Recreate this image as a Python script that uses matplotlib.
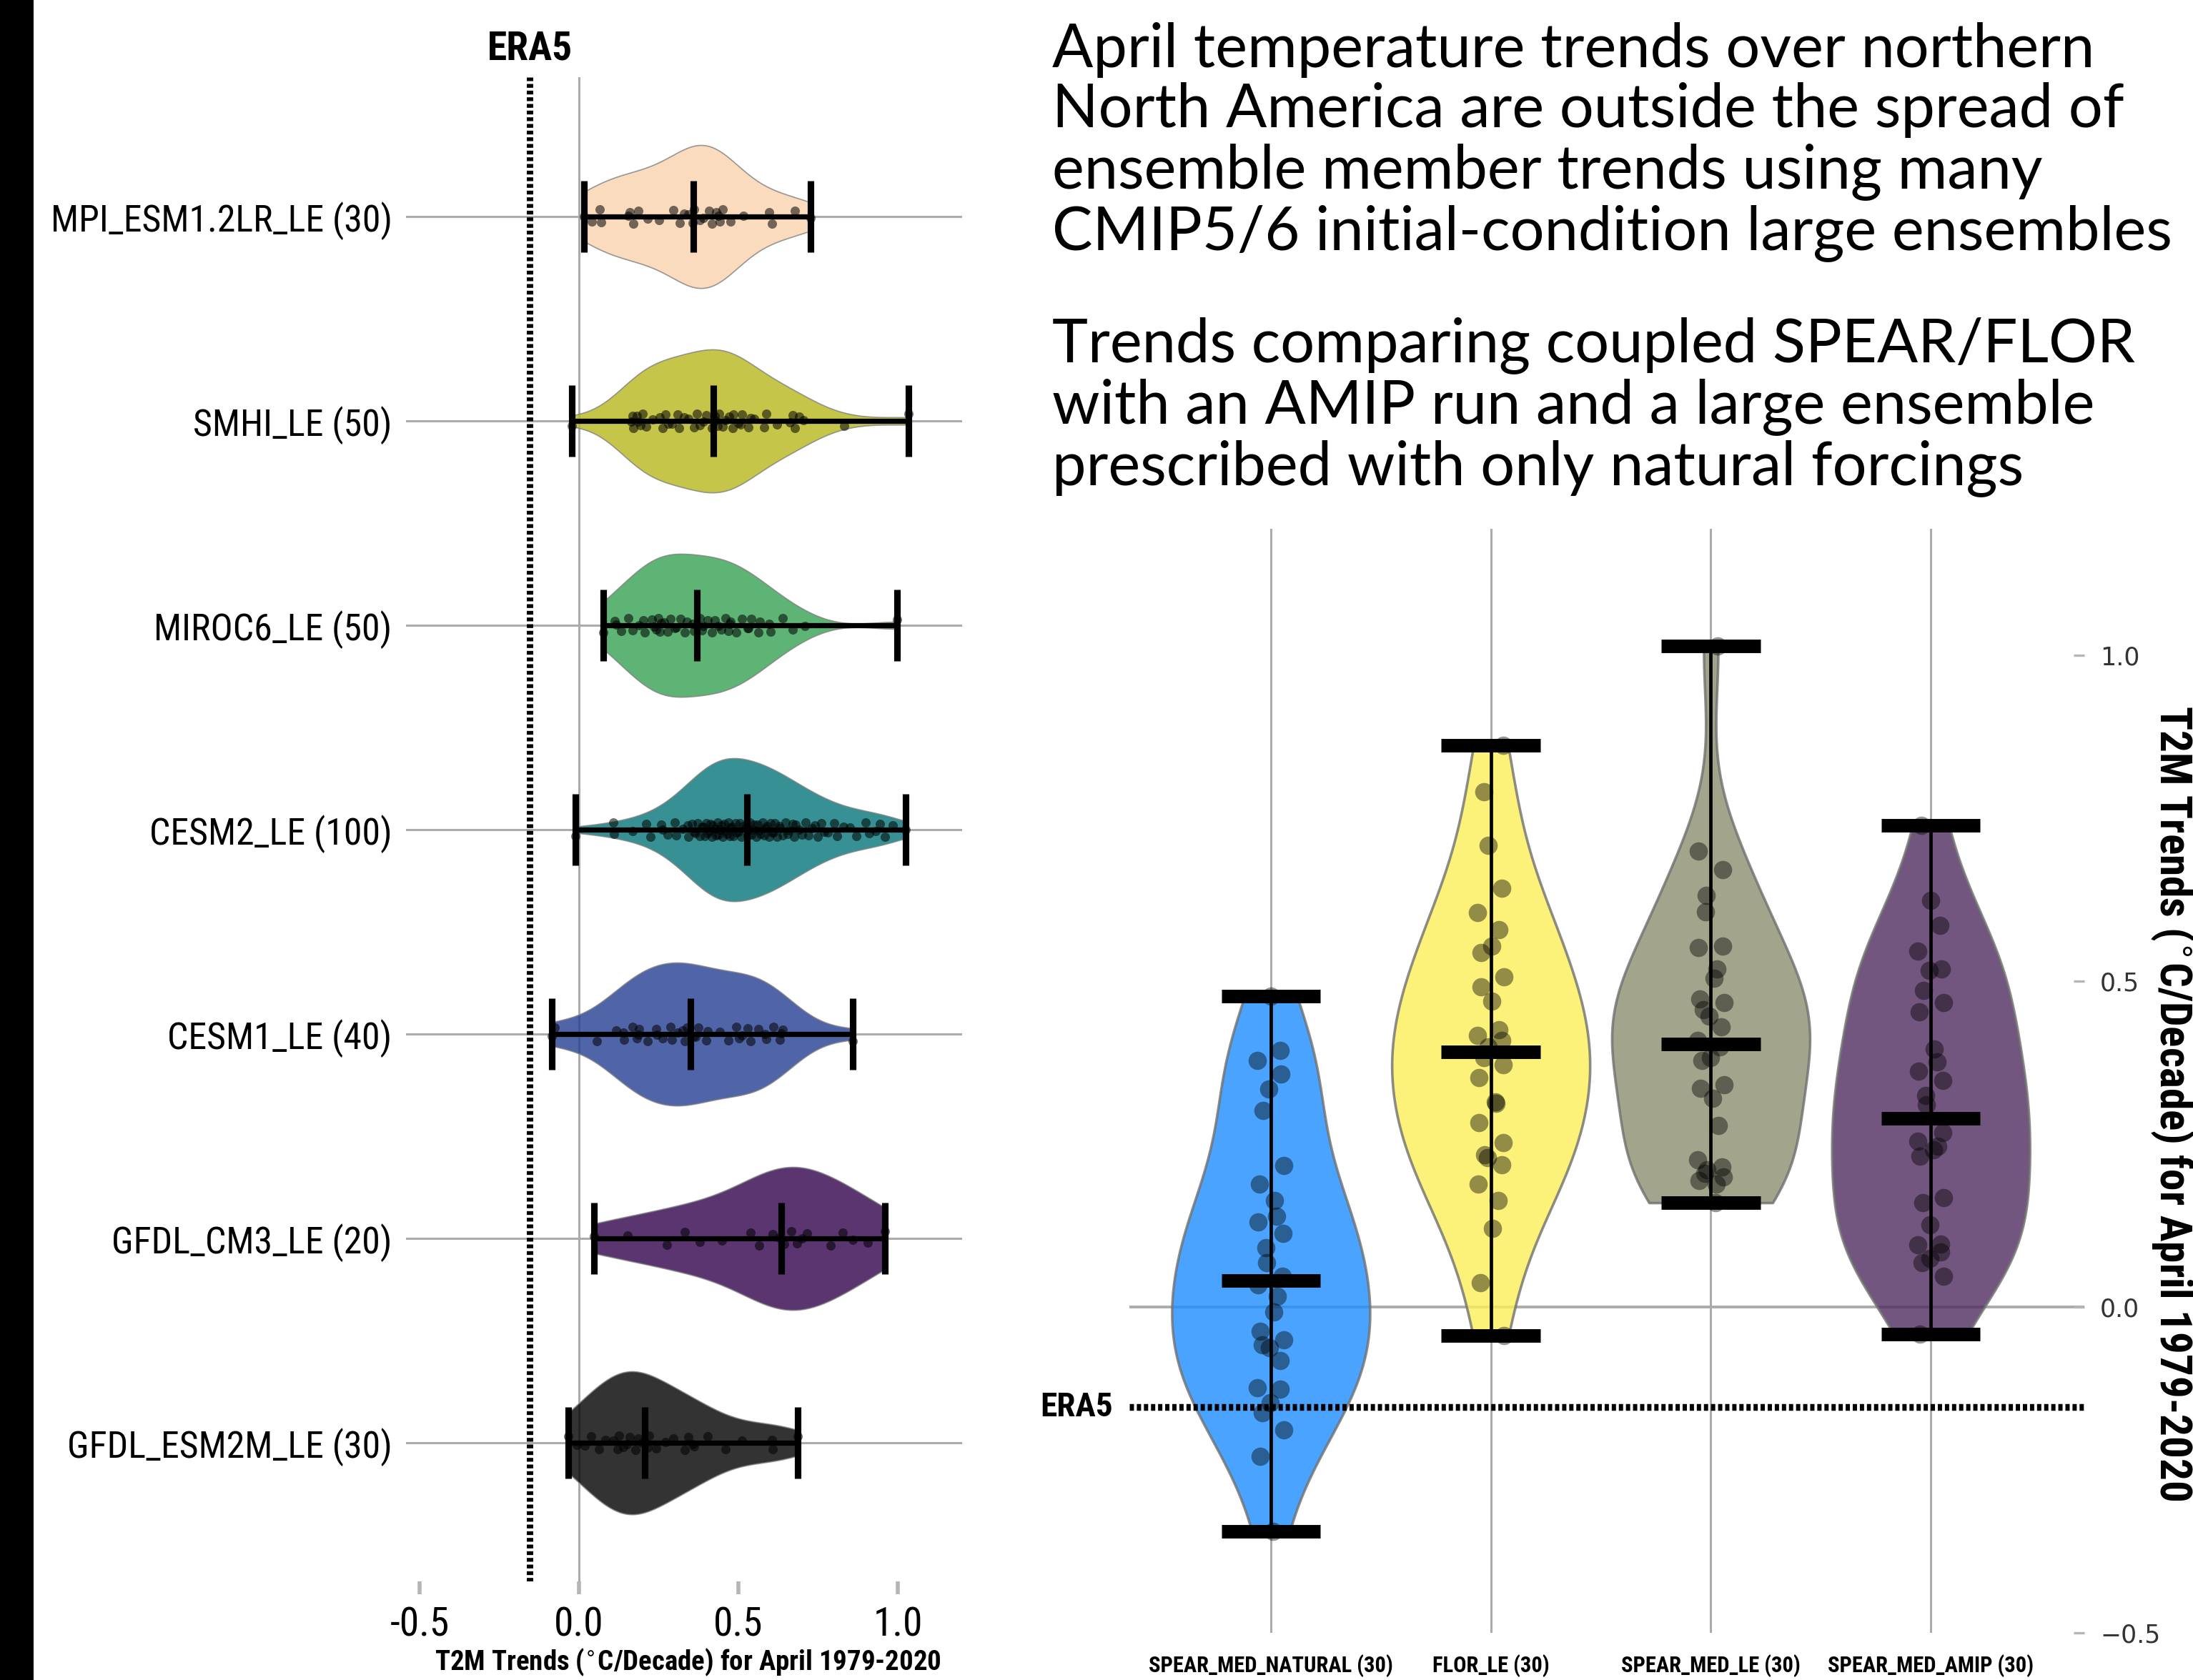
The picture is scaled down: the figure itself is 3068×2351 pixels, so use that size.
import numpy as np
import matplotlib
matplotlib.use('Agg')
import matplotlib.pyplot as plt
from matplotlib import font_manager as fm
from matplotlib.patches import Rectangle
import matplotlib.transforms as mtransforms


def has_font(name):
    try:
        fm.findfont(fm.FontProperties(family=name), fallback_to_default=False)
        return True
    except Exception:
        return False


def _weight(f):
    w = f.weight
    if isinstance(w, str):
        w = fm.weight_dict.get(w, 400)
    return int(w)


def find_condensed(bold):
    prefs = ['liberation sans narrow', 'roboto condensed', 'open sans condensed',
             'noto sans', 'lato', 'open sans', 'roboto', 'inter', 'dejavu sans']
    cands = []
    for f in fm.fontManager.ttflist:
        n = f.name.lower()
        fn = f.fname.lower()
        narrow = ('narrow' in n or 'condensed' in n or 'narrow' in fn or 'condensed' in fn
                  or str(f.stretch) in ('condensed', 'semi-condensed', 'extra-condensed',
                                         'ultra-condensed'))
        if not narrow or f.style != 'normal' or 'italic' in fn or 'oblique' in fn:
            continue
        cands.append(f)
    if not cands:
        return None

    def score(f):
        n = f.name.lower()
        p = len(prefs)
        for j, q in enumerate(prefs):
            if n.startswith(q):
                p = j
                break
        target = 700 if bold else 400
        fn = f.fname.lower()
        extra = 0 if ('extracondensed' not in fn and 'extra' not in str(f.stretch)) else 1
        return (extra, abs(_weight(f) - target), p)

    cands.sort(key=score)
    return cands[0].fname


COND_REG = find_condensed(False)
COND_BOLD = find_condensed(True)
BASE = 'Liberation Sans' if has_font('Liberation Sans') else 'DejaVu Sans'
THIN = 'Lato' if has_font('Lato') else 'DejaVu Sans'


def fp(bold=False, size=12):
    path = COND_BOLD if bold else COND_REG
    if path:
        return fm.FontProperties(fname=path, size=size)
    return fm.FontProperties(family=BASE, weight='bold' if bold else 'normal', size=size)


# ---------------- data: left panel (CMIP5/6 large ensembles) ----------------
left_labels = ['MPI_ESM1.2LR_LE (30)', 'SMHI_LE (50)', 'MIROC6_LE (50)', 'CESM2_LE (100)',
               'CESM1_LE (40)', 'GFDL_CM3_LE (20)', 'GFDL_ESM2M_LE (30)']
left_colors = ['#F9D3AE', '#B7B71C', '#35A151', '#037479', '#243D92', '#31024C', '#000000']

mpi_esm12lr = [0.015, 0.04, 0.065, 0.069, 0.155, 0.159, 0.17, 0.186, 0.215, 0.25, 0.295, 0.315,
               0.33, 0.343, 0.356, 0.362, 0.378, 0.39, 0.408, 0.416, 0.43, 0.438, 0.442, 0.451,
               0.476, 0.515, 0.597, 0.605, 0.678, 0.726]
smhi = [-0.023, 0.163, 0.168, 0.17, 0.181, 0.185, 0.193, 0.2, 0.211, 0.23, 0.253, 0.262, 0.271,
        0.28, 0.292, 0.309, 0.314, 0.33, 0.344, 0.36, 0.369, 0.378, 0.39, 0.399, 0.416,
        0.425, 0.429, 0.434, 0.44, 0.45, 0.459, 0.47, 0.481, 0.485, 0.5, 0.507, 0.511, 0.532,
        0.537, 0.55, 0.58, 0.588, 0.62, 0.661, 0.67, 0.678, 0.691, 0.704, 0.833, 1.034]
miroc6 = [0.075, 0.112, 0.116, 0.133, 0.155, 0.168, 0.189, 0.202, 0.206, 0.228, 0.236, 0.241,
          0.249, 0.253, 0.258, 0.266, 0.279, 0.288, 0.301, 0.305, 0.318, 0.331, 0.339, 0.356,
          0.361, 0.378, 0.386, 0.391, 0.404, 0.417, 0.425, 0.438, 0.447, 0.459, 0.468, 0.472,
          0.476, 0.494, 0.511, 0.528, 0.532, 0.541, 0.562, 0.567, 0.597, 0.601, 0.64, 0.67,
          0.708, 0.998]
cesm2 = [-0.011, 0.108, 0.110, 0.168, 0.21, 0.223, 0.258, 0.262, 0.279, 0.30, 0.305, 0.326,
         0.34, 0.344, 0.355, 0.36, 0.365, 0.373, 0.378, 0.386, 0.39, 0.395, 0.40, 0.404, 0.408,
         0.413, 0.417, 0.42, 0.425, 0.43, 0.434, 0.438, 0.442, 0.447, 0.45, 0.455, 0.459, 0.463,
         0.468, 0.472, 0.476, 0.48, 0.484, 0.49, 0.494, 0.50, 0.505, 0.51, 0.515, 0.522,
         0.53, 0.535, 0.54, 0.545, 0.55, 0.555, 0.56, 0.565, 0.57, 0.576, 0.58, 0.585, 0.59,
         0.597, 0.60, 0.605, 0.61, 0.615, 0.62, 0.627, 0.63, 0.64, 0.648, 0.655, 0.66, 0.67,
         0.675, 0.68, 0.69, 0.70, 0.71, 0.72, 0.73, 0.74, 0.75, 0.76, 0.77, 0.78, 0.80, 0.81,
         0.83, 0.85, 0.87, 0.90, 0.91, 0.93, 0.945, 0.96, 0.985, 1.024]
cesm1 = [-0.085, -0.077, 0.056, 0.116, 0.138, 0.142, 0.168, 0.181, 0.185, 0.189, 0.215, 0.241,
         0.245, 0.262, 0.288, 0.292, 0.309, 0.326, 0.331, 0.339, 0.361, 0.365, 0.374, 0.399,
         0.404, 0.442, 0.468, 0.494, 0.502, 0.511, 0.528, 0.537, 0.562, 0.584, 0.588, 0.609,
         0.631, 0.635, 0.640, 0.858]
gfdl_cm3 = [0.048, 0.153, 0.275, 0.331, 0.378, 0.449, 0.538, 0.564, 0.607, 0.627, 0.644, 0.665,
            0.683, 0.700, 0.715, 0.790, 0.827, 0.858, 0.905, 0.959]
gfdl_esm2m = [-0.034, -0.008, 0.018, 0.039, 0.063, 0.082, 0.108, 0.121, 0.125, 0.138, 0.151,
              0.159, 0.176, 0.185, 0.198, 0.215, 0.219, 0.241, 0.271, 0.296, 0.331, 0.344,
              0.356, 0.361, 0.404, 0.459, 0.511, 0.605, 0.607, 0.687]

# ---------------- data: right panel (SPEAR / FLOR) ----------------
right_labels = ['SPEAR_MED_NATURAL (30)', 'FLOR_LE (30)', 'SPEAR_MED_LE (30)', 'SPEAR_MED_AMIP (30)']
right_colors = ['#1D8EFF', '#FCEF59', '#8C8E6F', '#502C5F']

spear_natural = [0.477, 0.394, 0.378, 0.357, 0.334, 0.301, 0.217, 0.189, 0.163, 0.139, 0.131,
                 0.113, 0.091, 0.068, 0.047, 0.034, 0.016, -0.008, -0.037, -0.050, -0.058,
                 -0.063, -0.082, -0.124, -0.126, -0.147, -0.162, -0.189, -0.229, -0.344]
flor_le = [0.862, 0.790, 0.708, 0.642, 0.605, 0.579, 0.554, 0.544, 0.507, 0.491, 0.469, 0.425,
           0.417, 0.409, 0.399, 0.383, 0.372, 0.352, 0.315, 0.313, 0.283, 0.252, 0.233, 0.229,
           0.218, 0.189, 0.163, 0.121, 0.037, -0.044]
spear_le = [1.0145, 0.700, 0.671, 0.632, 0.606, 0.554, 0.551, 0.519, 0.504, 0.472, 0.467, 0.456,
            0.446, 0.430, 0.409, 0.399, 0.383, 0.378, 0.341, 0.336, 0.320, 0.278, 0.226, 0.215,
            0.210, 0.205, 0.199, 0.194, 0.189, 0.160]
spear_amip = [0.739, 0.624, 0.585, 0.546, 0.519, 0.516, 0.486, 0.467, 0.453, 0.396, 0.376, 0.362,
              0.348, 0.325, 0.310, 0.268, 0.254, 0.247, 0.241, 0.231, 0.168, 0.160, 0.126, 0.097,
              0.095, 0.084, 0.074, 0.068, 0.047, -0.042]

era5_trend = -0.154
left_xticks = [-0.5, 0.0, 0.5, 1.0]
left_xticklabels = ['-0.5', '0.0', '0.5', '1.0']
right_yticks = [-0.5, 0.0, 0.5, 1.0]
right_yticklabels = ['\u22120.5', '0.0', '0.5', '1.0']

title1 = ('April temperature trends over northern\nNorth America are outside the spread of\n'
          'ensemble member trends using many\nCMIP5/6 initial-condition large ensembles')
title2 = ('Trends comparing coupled SPEAR/FLOR\nwith an AMIP run and a large ensemble\n'
          'prescribed with only natural forcings')
axis_label = 'T2M Trends ($^{\\circ}$C/Decade) for April 1979-2020'

left_data = [mpi_esm12lr, smhi, miroc6, cesm2, cesm1, gfdl_cm3, gfdl_esm2m]
right_data = [spear_natural, flor_le, spear_le, spear_amip]

W, H = 3068, 2351
DPI = 200
fig = plt.figure(figsize=(W / DPI, H / DPI), dpi=DPI)
fig.patch.set_facecolor('white')

fig.patches.append(Rectangle((0, 0), 47 / W, 1, transform=fig.transFigure,
                             facecolor='black', edgecolor='none', zorder=0))

GRID = '#ababab'

# ====================== left panel ======================
axL = fig.add_axes([568 / W, 1 - 2213 / H, (1346 - 568) / W, (2213 - 108) / H])
for s in axL.spines.values():
    s.set_visible(False)
nL = len(left_data)
for i in range(nL):
    axL.axhline(i, color=GRID, lw=1.1, zorder=0)
axL.axvline(0, color=GRID, lw=1.1, zorder=0)

pL = axL.violinplot(left_data, positions=list(range(nL)), orientation='horizontal',
                    widths=0.7, showmedians=True, showextrema=True)
for body, c in zip(pL['bodies'], left_colors):
    body.set_facecolor(c)
    body.set_alpha(0.8)
    body.set_edgecolor('#808080')
    body.set_linewidth(0.6)
    body.set_zorder(1)
for key, lw in (('cbars', 2.6), ('cmins', 3.3), ('cmaxes', 3.3), ('cmedians', 3.3)):
    pL[key].set_color('black')
    pL[key].set_linewidth(lw)
    pL[key].set_zorder(3)

for i, vals in enumerate(left_data):
    vals = np.asarray(vals)
    k = np.arange(len(vals))
    jit = 0.035 * np.sin(2.39 * k + 0.7 * i)
    axL.scatter(vals, i + jit, s=22, color='black', alpha=0.55, linewidths=0, zorder=4)

axL.axvline(era5_trend, color='black', lw=3.2, linestyle=(0, (0.6, 0.45)), zorder=5)
axL.set_xlim(-0.543, 1.202)
axL.set_ylim(6.678, -0.682)
axL.set_yticks(range(nL))
axL.set_yticklabels(left_labels)
for t in axL.get_yticklabels():
    t.set_fontproperties(fp(False, 18.7))
axL.tick_params(axis='y', length=0, pad=7)
axL.set_xticks(left_xticks)
axL.set_xticklabels(left_xticklabels)
for t in axL.get_xticklabels():
    t.set_fontproperties(fp(False, 20))
axL.tick_params(axis='x', length=6.5, width=2, color='#b5b5b5', pad=6)
fig.text(962 / W, 1 - 2326 / H, axis_label, fontproperties=fp(True, 14),
         ha='center', va='center')
axL.text(era5_trend, -0.73, 'ERA5', fontproperties=fp(True, 20),
         ha='center', va='bottom', clip_on=False)

# ====================== right panel ======================
axR = fig.add_axes([1580 / W, 1 - 2285 / H, (2916 - 1580) / W, (2285 - 740) / H])
for s in axR.spines.values():
    s.set_visible(False)
nR = len(right_data)
for i in range(nR):
    axR.axvline(i, color=GRID, lw=1.1, zorder=0)
axR.axhline(0, color=GRID, lw=1.4, zorder=0)

pR = axR.violinplot(right_data, positions=list(range(nR)), widths=0.9,
                    showmedians=True, showextrema=True)
for body, c in zip(pR['bodies'], right_colors):
    body.set_facecolor(c)
    body.set_alpha(0.8)
    body.set_edgecolor('#707070')
    body.set_linewidth(1.3)
    body.set_zorder(1)
for key, lw in (('cbars', 1.7), ('cmins', 6.8), ('cmaxes', 6.8), ('cmedians', 6.8)):
    pR[key].set_color('black')
    pR[key].set_linewidth(lw)
    pR[key].set_zorder(3)

for i, vals in enumerate(right_data):
    vals = np.asarray(vals)
    k = np.arange(len(vals))
    jit = 0.06 * np.sin(2.39 * k + 1.3 * i)
    axR.scatter(i + jit, vals, s=85, color='black', alpha=0.42, linewidths=0, zorder=4)

axR.axhline(era5_trend, color='black', lw=3.4, linestyle=(0, (0.63, 0.42)), zorder=5)
axR.set_xlim(-0.643, 3.698)
axR.set_ylim(-0.5, 1.194)
axR.set_xticks(range(nR))
axR.set_xticklabels(right_labels)
for t in axR.get_xticklabels():
    t.set_fontproperties(fp(True, 11))
axR.tick_params(axis='x', length=0, pad=11)
axR.yaxis.tick_right()
axR.set_yticks(right_yticks)
axR.set_yticklabels(right_yticklabels, family='DejaVu Sans', fontsize=12.5, color='#333333')
axR.tick_params(axis='y', direction='in', length=5.5, width=1.2, color='#b5b5b5', pad=8)
trans = mtransforms.blended_transform_factory(axR.transAxes, axR.transData)
axR.text(-0.017, era5_trend, 'ERA5', transform=trans, fontproperties=fp(True, 17),
         ha='right', va='center', clip_on=False)

fig.text(3039 / W, 1 - 1544 / H, axis_label, rotation=270, fontproperties=fp(True, 22),
         ha='center', va='center')

# ====================== titles ======================
fig.text(1472 / W, 1 - 31 / H, title1, family=THIN, fontsize=30.5,
         ha='left', va='top', linespacing=1.1)
fig.text(1472 / W, 1 - 443 / H, title2, family=THIN, fontsize=30.5,
         ha='left', va='top', linespacing=1.1)

fig.savefig('out.png', dpi=DPI, facecolor='white')
